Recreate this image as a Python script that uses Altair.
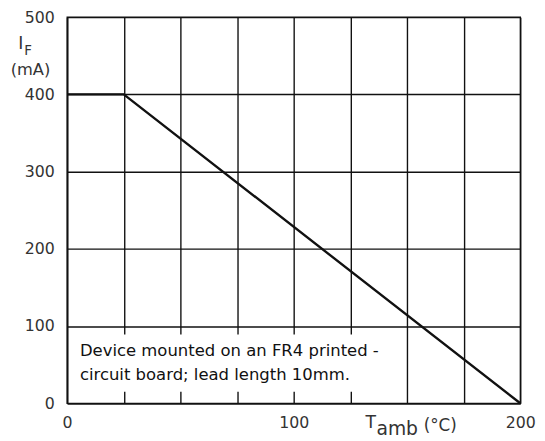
import altair as alt
import pandas as pd

# Derating curve: forward current vs ambient temperature
t_amb = [0, 25, 200]
i_f = [400, 400, 0]

x_grid = [0, 25, 50, 75, 100, 125, 150, 175, 200]
y_grid = [0, 50, 100, 150, 200, 250, 300, 350, 400, 450, 500]

note_lines = ["Device mounted on an FR4 printed -", "circuit board; lead length 10mm."]

FONT = "DejaVu Sans"
INK = "#111111"
LABEL = "#333333"

curve = pd.DataFrame({"t": t_amb, "i": i_f})

xs = alt.Scale(domain=[0, 200], nice=False, zero=False)
ys = alt.Scale(domain=[0, 500], nice=False, zero=False)

x_axis = alt.Axis(values=x_grid, labelExpr="datum.value % 100 == 0 ? datum.label : ''",
                  ticks=False, grid=True, gridColor=INK, gridWidth=1.4, gridOpacity=1,
                  domainColor=INK, domainWidth=1.5, labelFont=FONT, labelFontSize=16,
                  labelColor=LABEL, labelPadding=12, labelFlush=False, title=None)
y_axis = alt.Axis(values=y_grid, labelExpr="datum.value % 100 == 0 ? datum.label : ''",
                  ticks=False, grid=True, gridColor=INK, gridWidth=1.4, gridOpacity=1,
                  domainColor=INK, domainWidth=1.5, labelFont=FONT, labelFontSize=16,
                  labelColor=LABEL, labelPadding=13, labelFlush=False, title=None)

line = alt.Chart(curve).mark_line(color=INK, strokeWidth=2.4).encode(
    x=alt.X("t:Q", scale=xs, axis=x_axis),
    y=alt.Y("i:Q", scale=ys, axis=y_axis),
)

box = alt.Chart(pd.DataFrame({"x": [3.5], "x2": [146.5], "y": [15], "y2": [89]})).mark_rect(
    color="white", opacity=1
).encode(x=alt.X("x:Q", scale=xs), x2="x2:Q", y=alt.Y("y:Q", scale=ys), y2="y2:Q")


def label(txt, x, y, size, align="left", color=LABEL, baseline="middle"):
    return alt.Chart(pd.DataFrame({"t": [txt]})).mark_text(
        font=FONT, fontSize=size, color=color, align=align, baseline=baseline
    ).encode(x=alt.value(x), y=alt.value(y), text="t:N")


notes = label(note_lines[0], 13, 339, 16.7, color=INK) + label(note_lines[1], 13, 363, 16.7, color=INK)

ylab = (label("I", -47, 27.5, 17.5, "center") + label("F", -43.5, 34.5, 13.5)
        + label("(mA)", -37.2, 53.5, 16.5, "center"))
xlab = (label("T", 303, 412, 17.5) + label("amb", 314, 424.5, 19, baseline="alphabetic")
        + label("(°C)", 362, 415, 17))

chart = alt.layer(line, box, notes, ylab, xlab).properties(
    width=460, height=392,
    autosize=alt.AutoSizeParams(type="none"),
    padding={"left": 60, "top": 6, "right": 17, "bottom": 35},
).configure_view(stroke=INK, strokeWidth=1.4)

chart.save("out.html", embed_options={"renderer": "svg", "actions": False})
